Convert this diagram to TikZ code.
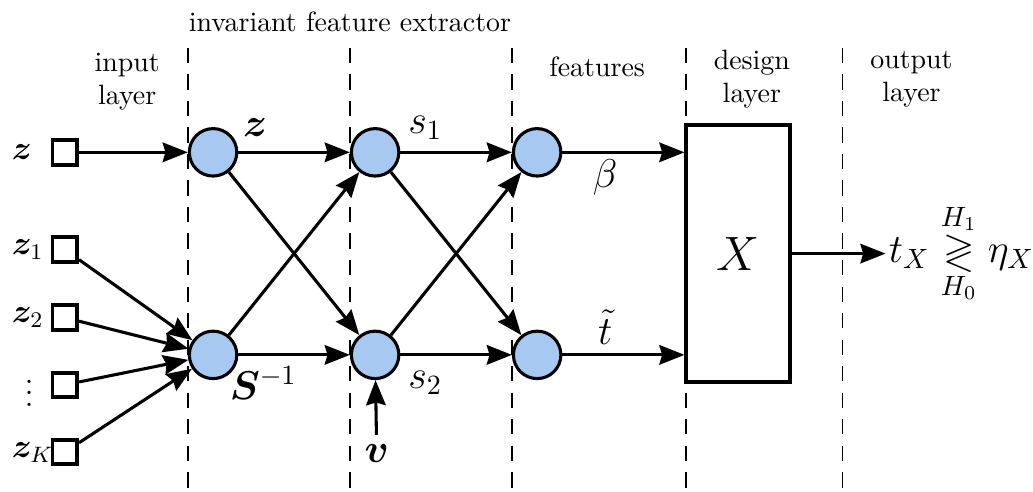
\documentclass[tikz,border=0pt]{standalone}
\usepackage{amsmath}
\usepackage{amssymb}
\usepackage{bm}
\usetikzlibrary{arrows.meta}
\usetikzlibrary{calc}
\definecolor{cellblue}{RGB}{167,200,240}
\tikzset{
neuron/.style = {circle, draw, line width=1.1pt, fill=cellblue,
                 minimum size=#1, inner sep=0pt},
neuron/.default = 17pt, % diameter of a unit
port/.style = {rectangle, draw, line width=1.4pt, minimum size=8.8pt, inner sep=0pt},
wire/.style = {line width=1.1pt, -{Stealth[length=9pt, width=7pt, inset=1pt]}},
sep/.style = {line width=0.55pt, dash pattern=on 5.5pt off 4pt},
lbl/.style = {font=\Large},
inlbl/.style = {font=\large, anchor=west, inner sep=0pt},
head/.style = {align=center, inner sep=1pt}
}
\newcommand{\neuron}[2]{\node[neuron] (#1) at (#2) {};}
\newcommand{\port}[2]{\node[port] (#1) at (#2) {};}
\newcommand{\wire}[2]{\draw[wire] (#1) -- (#2);}
\newcommand{\sepline}[1]{\draw[sep] (#1,3.79) -- (#1,-1.69);}

\begin{document}
\begin{tikzpicture}[x=1.02cm, y=1.02cm]
    \useasboundingbox (-2.63,-1.69) rectangle (10.12,4.38);

    % layer separators
    \sepline{-0.31};
    \sepline{1.69};
    \sepline{3.69};
    \sepline{5.84};
    \sepline{7.77};

    % headings
    \node[head] (hinv) at (1.69,4.11) {invariant feature extractor};
    \node[head] (hin) at (-1.06,3.37) {input\\layer};
    \node[head] (hfeat) at (4.74,3.56) {features};
    \node[head] (hdes) at (6.65,3.40) {design\\layer};
    \node[head] (hout) at (8.62,3.40) {output\\layer};

    % input layer
    \port{in0}{-1.83,2.5};
    \port{in1}{-1.83,1.30};
    \port{in2}{-1.83,0.46};
    \port{in3}{-1.83,-0.37};
    \port{inK}{-1.83,-1.20};
    \node[inlbl] (l0) at (-2.49,2.5) {$\bm{z}$};
    \node[inlbl] (l1) at (-2.49,1.30) {$\bm{z}_1$};
    \node[inlbl] (l2) at (-2.49,0.46) {$\bm{z}_2$};
    \node[font=\large, inner sep=0pt] (l3) at (-2.27,-0.37) {$\vdots$};
    \node[inlbl] (lK) at (-2.49,-1.20) {$\bm{z}_K$};

    % feature extractor
    \neuron{a1}{0,2.5};
    \neuron{a2}{0,0};
    \neuron{b1}{2,2.5};
    \neuron{b2}{2,0};
    \neuron{c1}{4,2.5};
    \neuron{c2}{4,0};

    \wire{in0}{a1};
    \wire{in1}{a2};
    \wire{in2}{a2};
    \wire{in3}{a2};
    \wire{inK}{a2};

    \wire{a1}{b1};
    \wire{a1}{b2};
    \wire{a2}{b1};
    \wire{a2}{b2};
    \wire{b1}{c1};
    \wire{b1}{c2};
    \wire{b2}{c1};
    \wire{b2}{c2};

    \node[lbl] (v) at (2.02,-1.22) {$\bm{v}$};
    \wire{v}{b2};

    \node[lbl] (tz) at (0.52,2.80) {$\bm{z}$};
    \node[lbl] (ts1) at (2.62,2.80) {$s_1$};
    \node[lbl] (tS) at (0.62,-0.35) {$\bm{S}^{-1}$};
    \node[lbl] (ts2) at (2.62,-0.35) {$s_2$};

    % design layer
    \node[draw, line width=1.4pt, minimum width=37pt, minimum height=92pt,
          inner sep=0pt, font=\LARGE] (dsg) at (6.48,1.25) {$X$};
    \draw[wire] (c1) -- (dsg.west |- c1);
    \draw[wire] (c2) -- (dsg.west |- c2);
    \node[lbl, inner sep=1pt] (tb) at (4.84,2.19) {$\beta$};
    \node[lbl, inner sep=1pt] (tt) at (4.84,0.34) {$\tilde{t}$};

    % output layer
    \node[lbl, anchor=west, inner sep=1pt] (res) at (8.30,1.25)
        {$t_X \underset{H_0}{\overset{H_1}{\gtrless}} \eta_X$};
    \draw[wire] (dsg.east) -- (res.west);
\end{tikzpicture}
\end{document}
